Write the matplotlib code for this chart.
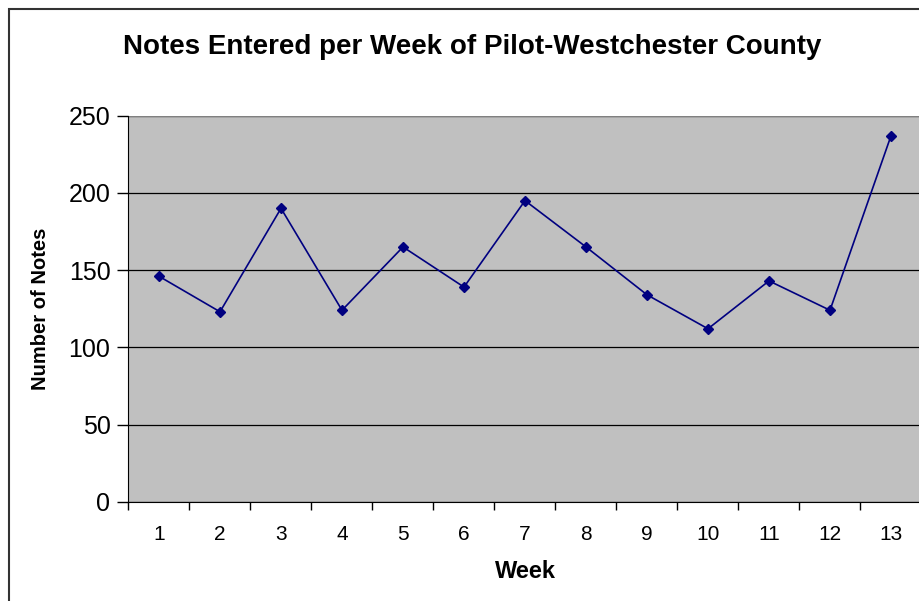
import numpy as np
import matplotlib.pyplot as plt
from matplotlib.patches import Rectangle

weeks = list(range(1, 14))
notes = [146, 123, 190, 124, 165, 139, 195, 165, 134, 112, 143, 124, 237]
y_ticks = [0, 50, 100, 150, 200, 250]

plt.rcParams['font.family'] = ['Liberation Sans', 'DejaVu Sans']

fig = plt.figure(figsize=(9.2, 6.01), dpi=100)
fig.patch.set_facecolor('white')

# outer chart border (runs off the right and bottom edges)
fig.patches.append(Rectangle((8.5 / 920, -0.1), 1.2, 1.1 - 8.5 / 601,
                             transform=fig.transFigure, fill=False,
                             edgecolor='#333333', linewidth=1.5))

ax = fig.add_axes([128.5 / 920, 1 - 501.7 / 601, 793 / 920, 386 / 601])
ax.set_facecolor('#C0C0C0')

ax.plot(weeks, notes, color='#000080', linewidth=1.2, marker='D', markersize=5.5,
        markerfacecolor='#000080', markeredgecolor='#000080', zorder=3)

ax.set_xlim(0.5, 13.5)
ax.set_ylim(0, 250)

ax.set_yticks(y_ticks)
ax.yaxis.grid(True, color='black', linewidth=0.9)
ax.set_axisbelow(True)
ax.tick_params(axis='y', direction='out', length=8, width=1, labelsize=18, pad=5)

# category boundaries get the tick marks, centres get the labels
ax.set_xticks(np.arange(0.5, 14, 1))
ax.set_xticklabels([])
ax.set_xticks(weeks, minor=True)
ax.set_xticklabels([str(w) for w in weeks], minor=True)
ax.tick_params(axis='x', which='major', direction='out', length=6, width=1)
ax.tick_params(axis='x', which='minor', length=0, labelsize=15, pad=17)

for s in ['top', 'right']:
    ax.spines[s].set_visible(False)
ax.spines['left'].set_color('black')
ax.spines['bottom'].set_color('black')
ax.axhline(250, color='#808080', linewidth=1.5, zorder=2)

ax.set_xlabel('Week', fontsize=17, fontweight='bold')
ax.xaxis.set_label_coords(0.5, -(572 - 501.7) / 386, transform=ax.transAxes)
ax.xaxis.label.set_va('center')
ax.set_ylabel('Number of Notes', fontsize=14.5, fontweight='bold')
ax.yaxis.set_label_coords(-(128.5 - 41) / 793, 0.5)
ax.yaxis.label.set_va('center')

fig.text(472 / 920, 1 - 47 / 601, 'Notes Entered per Week of Pilot-Westchester County',
         ha='center', va='center', fontsize=20, fontweight='bold')

fig.savefig('out.png', dpi=100)
